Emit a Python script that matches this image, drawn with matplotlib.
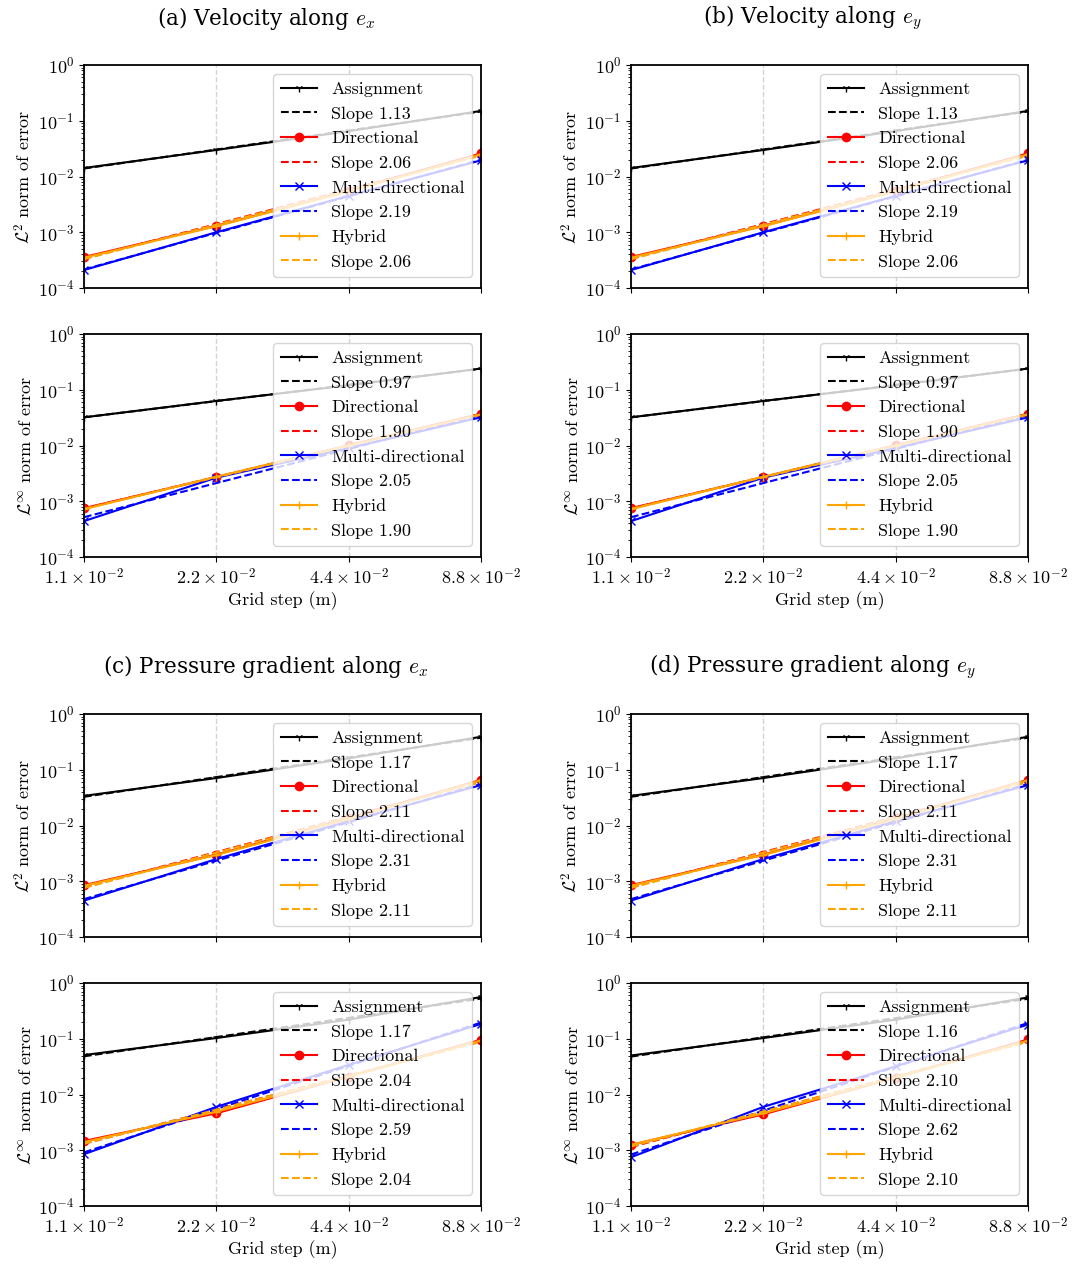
import numpy as np
import matplotlib
matplotlib.use("Agg")
import matplotlib.pyplot as plt
from matplotlib.ticker import FixedLocator, FixedFormatter, NullLocator

plt.rcParams['font.family'] = ['cmr10']
plt.rcParams['mathtext.fontset'] = 'cm'
plt.rcParams['axes.formatter.use_mathtext'] = True
plt.rcParams['axes.unicode_minus'] = False
plt.rcParams['font.size'] = 13

# ---------------- data ----------------
h = [0.011, 0.022, 0.044, 0.088]
xtick_labels = [r'$1.1\times10^{-2}$', r'$2.2\times10^{-2}$',
                r'$4.4\times10^{-2}$', r'$8.8\times10^{-2}$']
methods = ['Assignment', 'Directional', 'Multi-directional', 'Hybrid']

# (a) velocity e_x
a_l2_assign = [0.0142, 0.0299, 0.065, 0.150]
a_l2_dir    = [3.6e-4, 1.30e-3, 5.5e-3, 0.026]
a_l2_multi  = [2.1e-4, 1.00e-3, 4.5e-3, 0.0195]
a_l2_hyb    = [3.5e-4, 1.28e-3, 5.4e-3, 0.025]
a_l2_slopes = ['1.13', '2.06', '2.19', '2.06']

a_li_assign = [0.032, 0.063, 0.120, 0.240]
a_li_dir    = [7.5e-4, 2.70e-3, 0.0101, 0.037]
a_li_multi  = [4.4e-4, 2.65e-3, 9.0e-3, 0.032]
a_li_hyb    = [7.2e-4, 2.75e-3, 0.0100, 0.036]
a_li_slopes = ['0.97', '1.90', '2.05', '1.90']

# (b) velocity e_y
b_l2_assign = [0.0142, 0.0299, 0.065, 0.150]
b_l2_dir    = [3.6e-4, 1.30e-3, 5.5e-3, 0.026]
b_l2_multi  = [2.1e-4, 1.00e-3, 4.5e-3, 0.0195]
b_l2_hyb    = [3.5e-4, 1.28e-3, 5.4e-3, 0.025]
b_l2_slopes = ['1.13', '2.06', '2.19', '2.06']

b_li_assign = [0.032, 0.063, 0.120, 0.240]
b_li_dir    = [7.5e-4, 2.70e-3, 0.0101, 0.037]
b_li_multi  = [4.4e-4, 2.65e-3, 9.0e-3, 0.032]
b_li_hyb    = [7.2e-4, 2.75e-3, 0.0100, 0.036]
b_li_slopes = ['0.97', '1.90', '2.05', '1.90']

# (c) pressure gradient e_x
c_l2_assign = [0.034, 0.071, 0.160, 0.39]
c_l2_dir    = [8.5e-4, 3.0e-3, 0.0135, 0.066]
c_l2_multi  = [4.5e-4, 2.5e-3, 0.0120, 0.053]
c_l2_hyb    = [8.3e-4, 2.95e-3, 0.0130, 0.065]
c_l2_slopes = ['1.17', '2.11', '2.31', '2.11']

c_li_assign = [0.051, 0.103, 0.22, 0.56]
c_li_dir    = [1.47e-3, 4.6e-3, 0.021, 0.096]
c_li_multi  = [8.5e-4, 6.0e-3, 0.034, 0.184]
c_li_hyb    = [1.40e-3, 4.9e-3, 0.021, 0.093]
c_li_slopes = ['1.17', '2.04', '2.59', '2.04']

# (d) pressure gradient e_y
d_l2_assign = [0.034, 0.071, 0.160, 0.39]
d_l2_dir    = [8.5e-4, 3.0e-3, 0.0135, 0.066]
d_l2_multi  = [4.5e-4, 2.5e-3, 0.0120, 0.053]
d_l2_hyb    = [8.3e-4, 2.95e-3, 0.0130, 0.065]
d_l2_slopes = ['1.17', '2.11', '2.31', '2.11']

d_li_assign = [0.050, 0.103, 0.22, 0.55]
d_li_dir    = [1.25e-3, 4.4e-3, 0.020, 0.097]
d_li_multi  = [7.5e-4, 6.0e-3, 0.032, 0.180]
d_li_hyb    = [1.25e-3, 4.6e-3, 0.020, 0.093]
d_li_slopes = ['1.16', '2.10', '2.62', '2.10']

titles = [r'(a) Velocity along $e_x$', r'(b) Velocity along $e_y$',
          r'(c) Pressure gradient along $e_x$', r'(d) Pressure gradient along $e_y$']

panels = [
    ([a_l2_assign, a_l2_dir, a_l2_multi, a_l2_hyb], a_l2_slopes,
     [a_li_assign, a_li_dir, a_li_multi, a_li_hyb], a_li_slopes),
    ([b_l2_assign, b_l2_dir, b_l2_multi, b_l2_hyb], b_l2_slopes,
     [b_li_assign, b_li_dir, b_li_multi, b_li_hyb], b_li_slopes),
    ([c_l2_assign, c_l2_dir, c_l2_multi, c_l2_hyb], c_l2_slopes,
     [c_li_assign, c_li_dir, c_li_multi, c_li_hyb], c_li_slopes),
    ([d_l2_assign, d_l2_dir, d_l2_multi, d_l2_hyb], d_l2_slopes,
     [d_li_assign, d_li_dir, d_li_multi, d_li_hyb], d_li_slopes),
]

colors = ['black', 'red', 'blue', 'orange']
markers = ['1', 'o', 'x', '+']

W, H = 1074, 1264
fig = plt.figure(figsize=(W / 100, H / 100), dpi=100)

col_left = [84, 631]
col_w = 397
rows_top = [[65, 334], [714, 983]]
ax_h = 223


def draw(ax, series, slopes, ylabel, show_x):
    hx = np.array(h)
    for vals, sl, c, m, name in zip(series, slopes, colors, markers, methods):
        ax.plot(hx, vals, color=c, marker=m, lw=1.5, ms=6, label=name)
        p = np.polyfit(np.log(hx), np.log(vals), 1)
        fit = np.exp(np.polyval(p, np.log(hx)))
        ax.plot(hx, fit, color=c, ls='--', lw=1.5, label='Slope ' + sl)
    ax.set_xscale('log')
    ax.set_yscale('log')
    ax.set_xlim(h[0], h[-1])
    ax.set_ylim(1e-4, 1)
    ax.xaxis.set_major_locator(FixedLocator(h))
    ax.xaxis.set_minor_locator(NullLocator())
    if show_x:
        ax.xaxis.set_major_formatter(FixedFormatter(xtick_labels))
        ax.set_xlabel('Grid step (m)', fontsize=13, labelpad=3)
    else:
        ax.set_xticklabels([])
    ax.set_yticks([1e-4, 1e-3, 1e-2, 1e-1, 1])
    ax.grid(axis='x', which='major', ls='--', color='lightgray', lw=1)
    ax.set_ylabel(ylabel, fontsize=13, labelpad=3)
    ax.tick_params(labelsize=13)
    for s in ax.spines.values():
        s.set_linewidth(1.3)
    ax.legend(loc='upper right', fontsize=13, handlelength=2.0,
              labelspacing=0.5, borderaxespad=0.5, handletextpad=0.8)


for i, (l2s, l2sl, lis, lisl) in enumerate(panels):
    col = i % 2
    row = i // 2
    x0 = col_left[col]
    for k in range(2):
        top = rows_top[row][k]
        ax = fig.add_axes([x0 / W, 1 - (top + ax_h) / H, col_w / W, ax_h / H])
        if k == 0:
            draw(ax, l2s, l2sl, r'$\mathcal{L}^2$ norm of error', False)
        else:
            draw(ax, lis, lisl, r'$\mathcal{L}^\infty$ norm of error', True)
    tx = [266, 812][col]
    ty = [18, 667][row]
    fig.text(tx / W, 1 - ty / H, titles[i], ha='center', va='center',
             fontsize=15.5, family=['DejaVu Serif'])

fig.savefig('out.png', dpi=100)
